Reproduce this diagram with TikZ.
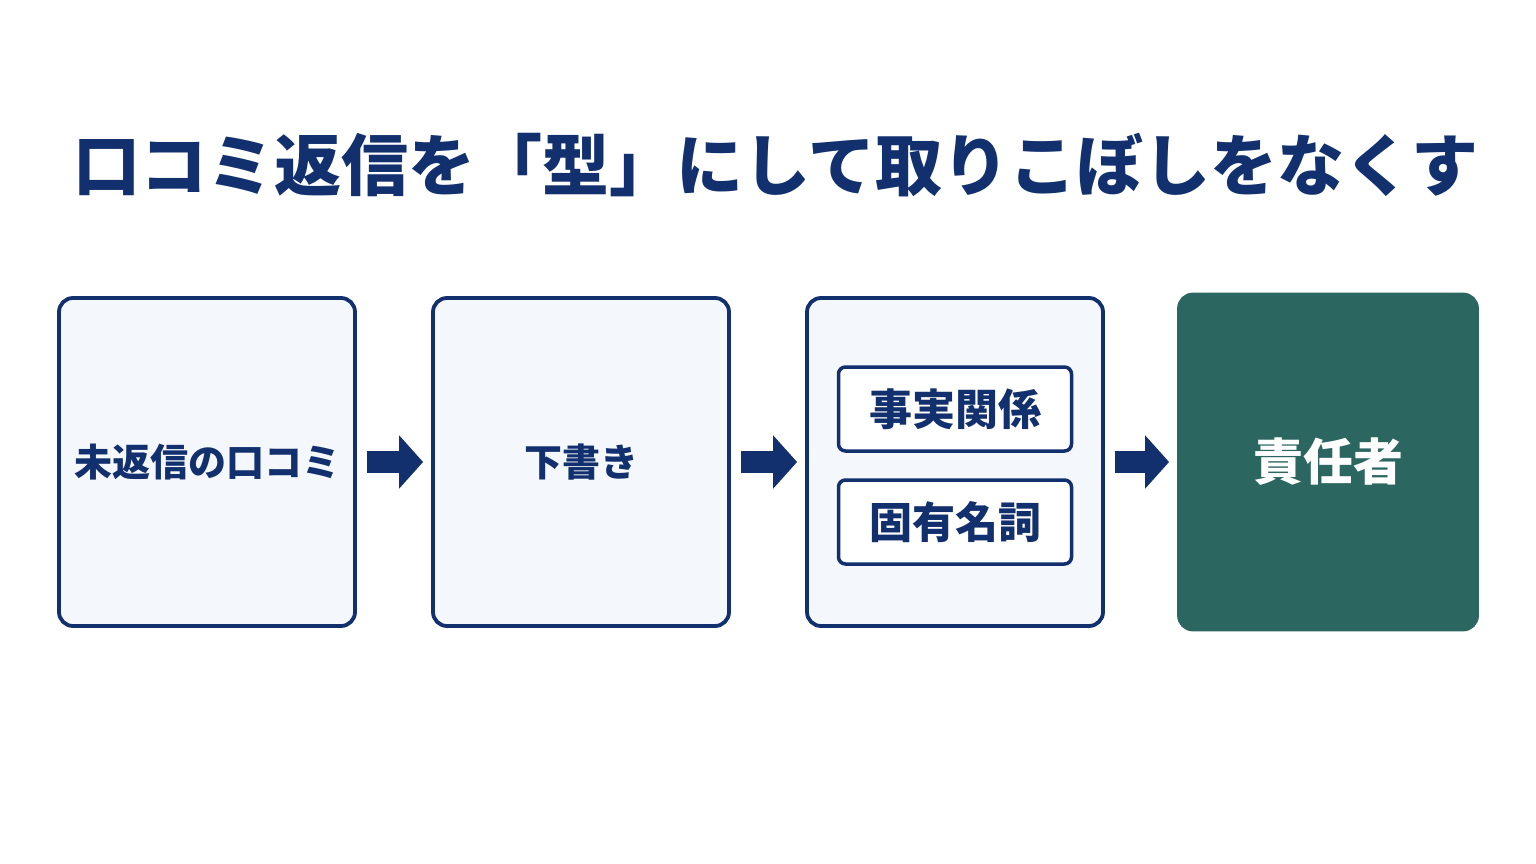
\documentclass[tikz,border=0pt]{standalone}
\usepackage{fontspec}
\newfontfamily\cjk{Noto Sans CJK JP}
\usetikzlibrary{arrows.meta}
\definecolor{navy}{HTML}{12306E}
\definecolor{boxfill}{HTML}{F4F7FC}
\definecolor{teal}{HTML}{2B6660}
\begin{document}
\begin{tikzpicture}[x=1pt,y=-1pt,
  box/.style={draw=navy,line width=3.8pt,fill=boxfill,rounded corners=14pt,minimum width=296pt,minimum height=328pt,inner sep=0pt,text=navy,font=\cjk\bfseries\fontsize{38}{42}\selectfont},
  sub/.style={draw=navy,line width=3.5pt,fill=white,rounded corners=7pt,minimum width=233pt,minimum height=84pt,inner sep=0pt,text=navy,font=\cjk\bfseries\fontsize{43}{47}\selectfont},
  arr/.style={navy,line width=22pt,-{Triangle[length=24pt,width=52pt]},shorten <=10pt,shorten >=8pt}]
\useasboundingbox (0,0) rectangle (1536,864);
\fill[white] (0,0) rectangle (1536,864);
\node[text=navy,font=\cjk\bfseries\fontsize{67}{72}\selectfont] (title) at (776,165) {口コミ返信を「型」にして取りこぼしをなくす};
\node[box] (b1) at (207,462) {未返信の口コミ};
\node[box] (b2) at (581,462) {下書き};
\node[box] (b3) at (955,462) {};
\node[box,draw=teal,fill=teal,text=white,minimum width=298pt,minimum height=335pt,font=\cjk\bfseries\fontsize{50}{54}\selectfont] (b4) at (1328,462) {責任者};
\node[sub] (s1) at (955,409) {事実関係};
\node[sub] (s2) at (955,522) {固有名詞};
\draw[arr] (b1.east) -- (b2.west);
\draw[arr] (b2.east) -- (b3.west);
\draw[arr] (b3.east) -- (b4.west);
\end{tikzpicture}
\end{document}
